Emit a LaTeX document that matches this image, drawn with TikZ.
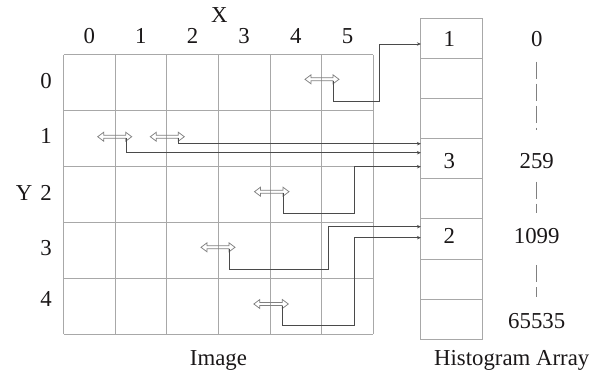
\documentclass[tikz,border=0pt]{standalone}
\usepackage{fontspec}
\setmainfont{Liberation Serif}
\usetikzlibrary{arrows.meta}
\definecolor{gridc}{HTML}{A8A8A8}
\definecolor{linec}{HTML}{4A4A4A}
\definecolor{txtc}{HTML}{1A1718}
\newcommand\hollowarr[4]{% name, x1, y, length
  \draw[harrow] (#2,#3) -- ++(6,-4.5) -- ++(0,3) -- ++({#4-12},0) -- ++(0,-3) -- ++(6,4.5)
    -- ++(-6,4.5) -- ++(0,-3) -- ++({12-#4},0) -- ++(0,3) -- cycle;
  \coordinate (#1) at ({#2+#4-5.5},{#3+1.5});
}
\begin{document}
\begin{tikzpicture}[x=1pt,y=-1pt,
  lbl/.style={font=\fontsize{22.8}{26}\selectfont, text=txtc, inner sep=0pt},
  gridline/.style={draw=gridc, line width=1pt},
  conn/.style={draw=linec, line width=0.9pt, -{Stealth[length=4pt,width=3.5pt]}},
  harrow/.style={draw=gray, line width=0.75pt},
  cellbox/.style={draw=gridc, line width=1pt, minimum width=62pt, minimum height=40.1pt, inner sep=0pt, outer sep=0pt},
  dashv/.style={draw=gray, line width=1pt, dash pattern=on 17pt off 5pt}]
\useasboundingbox (0,0) rectangle (594,371);

% image grid
\foreach \i in {0,...,6} \draw[gridline] ({63.5+\i*51.63},55) -- ({63.5+\i*51.63},334.3);
\foreach \j in {0,...,5} \draw[gridline] (63.5,{55+\j*55.86}) -- (373.3,{55+\j*55.86});

% histogram array
\foreach \k in {0,...,7} \node[cellbox] (h\k) at (451.9,{38.35+\k*40.125}) {};

% axis labels
\node[lbl, anchor=base] (xlab) at (219.3,23) {X};
\foreach \i in {0,...,5} \node[lbl, anchor=base] (c\i) at ({89.3+\i*51.63},44) {\i};
\node[lbl, anchor=base east] (r0) at (52,88.3) {0};
\node[lbl, anchor=base east] (r1) at (52,144) {1};
\node[lbl, anchor=base east] (r2) at (52,200.7) {2};
\node[lbl, anchor=base east] (r3) at (52,256) {3};
\node[lbl, anchor=base east] (r4) at (52,306.7) {4};
\node[lbl, anchor=base] (ylab) at (24,200.7) {Y};

% histogram values and indices
\node[lbl, anchor=base] (v1) at (449.3,46.7) {1};
\node[lbl, anchor=base] (v3) at (449.3,168.3) {3};
\node[lbl, anchor=base] (v2) at (449.3,243.3) {2};
\node[lbl, anchor=base] (i0) at (536.7,47) {0};
\node[lbl, anchor=base] (i259) at (536.7,168.3) {259};
\node[lbl, anchor=base] (i1099) at (536.7,243.3) {1099};
\node[lbl, anchor=base] (i65535) at (536.7,328.3) {65535};
\draw[dashv] (536.7,61.7) -- (536.7,130);
\draw[dashv] (536.7,181.7) -- (536.7,213);
\draw[dashv] (536.7,265) -- (536.7,297);

\node[lbl, anchor=base] (imglab) at (218.4,365) {Image};
\node[lbl, anchor=base] (histlab) at (511.7,365) {Histogram Array};

% hollow double arrows (pixels)
\hollowarr{s0}{305}{79.3}{34}
\hollowarr{s1a}{97.7}{136.7}{34}
\hollowarr{s1b}{150.3}{136.7}{34}
\hollowarr{s2}{254.5}{191.7}{34.5}
\hollowarr{s3}{201}{247.3}{34}
\hollowarr{s4}{253.8}{304}{34.5}

% connector targets on the histogram
\coordinate (t0) at ([yshift=-5.65pt]h0.west);
\coordinate (t1b) at ([yshift=15pt]h3.west);
\coordinate (t1a) at ([yshift=6pt]h3.west);
\coordinate (t2) at ([yshift=-8pt]h3.west);
\coordinate (t3) at ([yshift=12.3pt]h5.west);
\coordinate (t4) at ([yshift=1.3pt]h5.west);

% connectors
\draw[conn] (s0) |- (379.3,101.7) |- (t0);
\draw[conn] (s1a) |- (t1a);
\draw[conn] (s1b) |- (t1b);
\draw[conn] (s2) |- (354.3,213.3) |- (t2);
\draw[conn] (s3) |- (328.3,269.3) |- (t3);
\draw[conn] (s4) |- (354,325.7) |- (t4);
\end{tikzpicture}
\end{document}
